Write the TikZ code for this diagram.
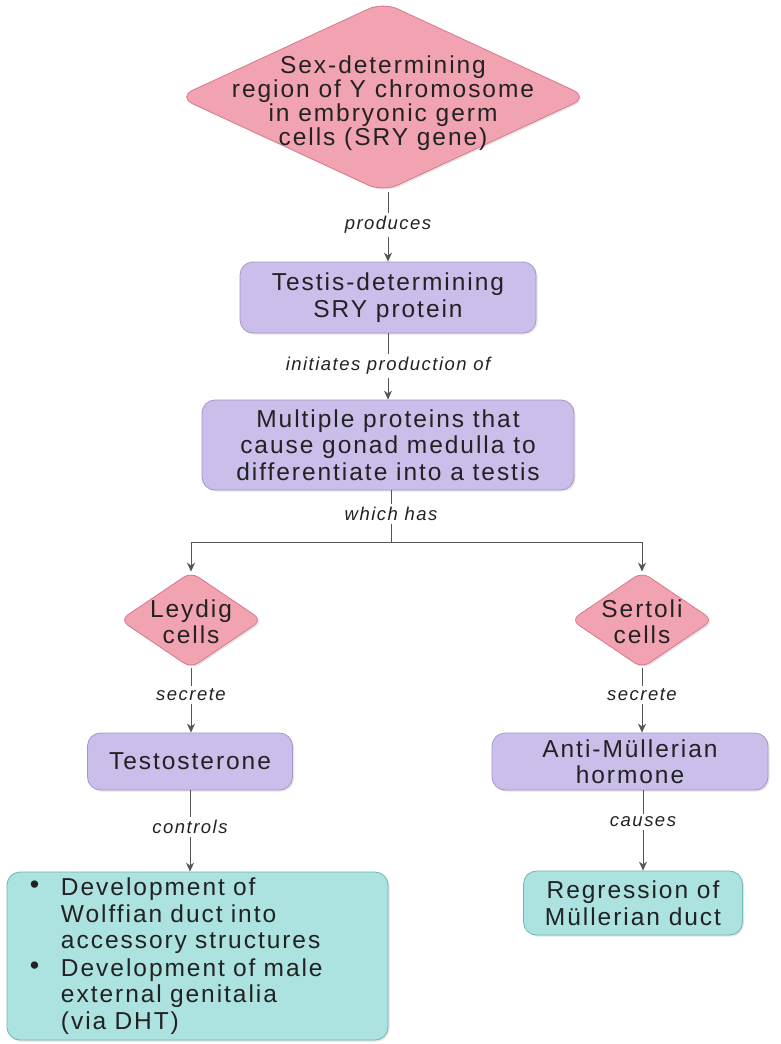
\documentclass[tikz,border=0pt]{standalone}
\usepackage{fontspec}
\setmainfont{Liberation Sans}[LetterSpace=8]
\usetikzlibrary{shapes.geometric,arrows.meta,shadows}
\definecolor{pinkfill}{HTML}{F2A3B1}
\definecolor{pinkdraw}{HTML}{D9788C}
\definecolor{lavfill}{HTML}{CBBEEA}
\definecolor{lavdraw}{HTML}{A597C8}
\definecolor{cyanfill}{HTML}{ACE2DF}
\definecolor{cyandraw}{HTML}{6BB8B4}
\definecolor{txt}{HTML}{222222}
\definecolor{conn}{HTML}{555555}
\tikzset{
  dia/.style={diamond, fill=pinkfill, draw=pinkdraw, line width=0.8pt, rounded corners=16pt, inner sep=0pt,
     drop shadow={shadow xshift=1.5pt, shadow yshift=-1.5pt, fill=black!20}},
  lavbox/.style={rectangle, rounded corners=13pt, fill=lavfill, draw=lavdraw, line width=0.8pt, align=center, text=txt,
     font=\fontsize{24.5}{26.5}\selectfont, drop shadow={shadow xshift=1.5pt, shadow yshift=-1.5pt, fill=black!20}},
  cyanbox/.style={rectangle, rounded corners=13pt, fill=cyanfill, draw=cyandraw, line width=0.8pt, text=txt,
     font=\fontsize{24.5}{26.5}\selectfont, drop shadow={shadow xshift=1.5pt, shadow yshift=-1.5pt, fill=black!20}},
  dtext/.style={align=center, text=txt, font=\fontsize{24.5}{24}\selectfont, inner sep=0pt},
  lab/.style={font=\itshape\fontsize{18.5}{20}\selectfont, text=txt, inner sep=3pt},
  ln/.style={draw=conn, line width=1pt},
  arr/.style={draw=conn, line width=1pt, -{Stealth[length=9pt,width=8pt]}},
}
\newcommand{\bul}{\makebox[32pt][l]{\hspace*{1pt}\raisebox{2pt}{\scalebox{1.1}{\textbullet}}}}
\newcommand{\ind}{\hspace*{32pt}}
\begin{document}
\begin{tikzpicture}[x=1pt,y=-1pt]
\useasboundingbox[fill=white] (0,0) rectangle (781,1044);
% top diamond
\node[dia, minimum width=410pt, minimum height=190pt] (top) at (383,97) {};
\node[dtext] (toptext) at (383,103) {Sex-determining\\region of Y chromosome\\in embryonic germ\\cells (SRY gene)};
\node[lab] (produces) at (388,225) {produces};
\node[lavbox, minimum width=296pt, minimum height=71pt] (sry) at (388,297.5) {Testis-determining\\SRY protein};
\node[lab] (initiates) at (388,366) {initiates production of};
\node[lavbox, minimum width=372pt, minimum height=90pt] (multi) at (388,445) {Multiple proteins that\\cause gonad medulla to\\differentiate into a testis};
\node[lab] (which) at (391,514) {which has};
\coordinate (split) at (391,542);
\coordinate (lcorner) at (191,542);
\coordinate (rcorner) at (642,542);
% Leydig / Sertoli
\node[dia, minimum width=142pt, minimum height=96pt, rounded corners=9pt] (leydig) at (191,620) {};
\node[dtext, font=\fontsize{24.5}{26}\selectfont] (leydigtext) at (191,622) {Leydig\\cells};
\node[dia, minimum width=142pt, minimum height=96pt, rounded corners=9pt] (sertoli) at (642,620) {};
\node[dtext, font=\fontsize{24.5}{26}\selectfont] (sertolitext) at (642,622) {Sertoli\\cells};
\node[lab] (secL) at (191,695) {secrete};
\node[lab] (secR) at (642,695) {secrete};
\node[lavbox, minimum width=205pt, minimum height=57pt] (testo) at (190,761.5) {Testosterone};
\node[lavbox, minimum width=276pt, minimum height=57pt] (amh) at (630,761.5) {Anti-Müllerian\\hormone};
\node[lab] (controls) at (190,827) {controls};
\node[lab] (causes) at (643,822) {causes};
\node[cyanbox, minimum height=168pt, text width=337pt, inner xsep=22pt, align=left] (wolff) at (197.5,956)
  {\bul Development of\\
   \ind Wolffian duct into\\
   \ind accessory structures\\[1pt]
   \bul Development of male\\
   \ind external genitalia\\
   \ind (via DHT)};
\node[cyanbox, minimum width=219pt, minimum height=64pt, align=center] (regr) at (633,903) {Regression of\\Müllerian duct};
% connectors
\draw[ln] (top.south -| produces) -- (produces.north);
\draw[arr] (produces.south) -- (produces.south |- sry.north);
\draw[ln] (sry.south -| initiates) -- (initiates.north);
\draw[arr] (initiates.south) -- (initiates.south |- multi.north);
\draw[ln] (multi.south -| which) -- (which.north);
\draw[ln] (which.south) -- (split);
\draw[arr] (split) -- (lcorner) -- (leydig.north);
\draw[arr] (split) -- (rcorner) -- (sertoli.north);
\draw[ln] (leydig.south) -- (secL.north);
\draw[arr] (secL.south) -- (secL.south |- testo.north);
\draw[ln] (sertoli.south) -- (secR.north);
\draw[arr] (secR.south) -- (secR.south |- amh.north);
\draw[ln] (testo.south -| controls) -- (controls.north);
\draw[arr] (controls.south) -- (controls.south |- wolff.north);
\draw[ln] (amh.south -| causes) -- (causes.north);
\draw[arr] (causes.south) -- (causes.south |- regr.north);
\end{tikzpicture}
\end{document}
